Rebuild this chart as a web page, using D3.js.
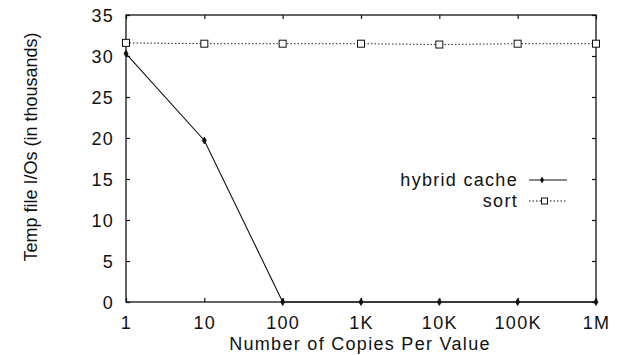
<!DOCTYPE html>
<html>
<head>
<meta charset="utf-8">
<script src="https://cdn.jsdelivr.net/npm/d3@7"></script>
<style>
  body { margin: 0; background: #fff; }
  text { font-family: "Liberation Sans", Arial, sans-serif; fill: #111; letter-spacing: 1.3px; }
</style>
</head>
<body>
<div id="chart"></div>
<script>
// Data
var copies = [1, 10, 100, 1000, 10000, 100000, 1000000];
var xTickLabels = ["1", "10", "100", "1K", "10K", "100K", "1M"];
var yTicks = [0, 5, 10, 15, 20, 25, 30, 35];
var hybridCache = [30.3, 19.7, 0, 0, 0, 0, 0];
var sortIOs = [31.6, 31.5, 31.5, 31.5, 31.4, 31.5, 31.5];

// Dimensions
var svgWidth = 618;
var svgHeight = 355;
var margin = { top: 15, right: 22, bottom: 53, left: 126 };
var chartWidth = svgWidth - margin.left - margin.right;
var chartHeight = svgHeight - margin.top - margin.bottom;

var svg = d3.select("#chart").append("svg")
    .attr("width", svgWidth)
    .attr("height", svgHeight);

var chartGroup = svg.append("g")
    .attr("transform", `translate(${margin.left},${margin.top})`);

// Scales
var xScale = d3.scaleLog().domain([1, 1000000]).range([0, chartWidth]);
var yScale = d3.scaleLinear().domain([0, 35]).range([chartHeight, 0]);

// Frame
chartGroup.append("rect")
    .attr("width", chartWidth)
    .attr("height", chartHeight)
    .attr("fill", "none")
    .attr("stroke", "#111")
    .attr("stroke-width", 1.3);

// Axes (ticks pointing inward, mirrored on top/right)
var xAxis = d3.axisBottom(xScale).tickValues(copies)
    .tickFormat((d, i) => xTickLabels[i]).tickSize(-4).tickPadding(14);
var yAxis = d3.axisLeft(yScale).tickValues(yTicks).tickSize(-4).tickPadding(12);

var gx = chartGroup.append("g")
    .attr("transform", `translate(0,${chartHeight})`)
    .call(xAxis);
var gy = chartGroup.append("g").call(yAxis);

chartGroup.append("g")
    .call(d3.axisTop(xScale).tickValues(copies).tickFormat("").tickSize(-4));
chartGroup.append("g")
    .attr("transform", `translate(${chartWidth},0)`)
    .call(d3.axisRight(yScale).tickValues(yTicks).tickFormat("").tickSize(-4));

chartGroup.selectAll(".domain").remove();
chartGroup.selectAll(".tick line").attr("stroke", "#111").attr("stroke-width", 1.2);
gx.selectAll("text").style("font-size", "18px").attr("fill", "#111");
gy.selectAll("text").style("font-size", "18px").attr("fill", "#111").attr("dy", "0.36em");

// Lines
var line = d3.line()
    .x((d, i) => xScale(copies[i]))
    .y(d => yScale(d));

chartGroup.append("path")
    .datum(sortIOs)
    .attr("d", line)
    .attr("fill", "none")
    .attr("stroke", "#222")
    .attr("stroke-width", 1)
    .attr("stroke-dasharray", "1.5,2");

chartGroup.append("path")
    .datum(hybridCache)
    .attr("d", line)
    .attr("fill", "none")
    .attr("stroke", "#111")
    .attr("stroke-width", 1.1);

// Markers
var diamond = d3.symbol().type(d3.symbolDiamond).size(14);
chartGroup.selectAll(".hyb")
    .data(hybridCache)
    .enter()
    .append("path")
    .attr("class", "hyb")
    .attr("d", diamond)
    .attr("transform", (d, i) => `translate(${xScale(copies[i])},${yScale(d)})`)
    .attr("fill", "#111")
    .attr("stroke", "#111")
    .attr("stroke-width", 0.8);

chartGroup.selectAll(".srt")
    .data(sortIOs)
    .enter()
    .append("rect")
    .attr("class", "srt")
    .attr("x", (d, i) => xScale(copies[i]) - 3.5)
    .attr("y", d => yScale(d) - 3.5)
    .attr("width", 7)
    .attr("height", 7)
    .attr("fill", "#fff")
    .attr("stroke", "#111")
    .attr("stroke-width", 1);

// Legend
var legend = svg.append("g");
var legendItems = [
    { label: "hybrid cache", y: 180, dash: null },
    { label: "sort", y: 201, dash: "1.5,2" }
];
legendItems.forEach(function(item, i) {
    legend.append("text")
        .attr("x", 518)
        .attr("y", item.y + 6)
        .attr("text-anchor", "end")
        .style("font-size", "18px")
        .text(item.label);
    legend.append("line")
        .attr("x1", 529).attr("x2", 567)
        .attr("y1", item.y).attr("y2", item.y)
        .attr("stroke", "#111")
        .attr("stroke-width", 1)
        .attr("stroke-dasharray", item.dash);
    if (i === 0) {
        legend.append("path")
            .attr("d", diamond)
            .attr("transform", `translate(542,${item.y})`)
            .attr("fill", "#111");
    } else {
        legend.append("rect")
            .attr("x", 541.5).attr("y", item.y - 3)
            .attr("width", 6).attr("height", 6)
            .attr("fill", "#fff").attr("stroke", "#111");
    }
});

// Axis titles
svg.append("text")
    .attr("x", 360)
    .attr("y", 350)
    .attr("text-anchor", "middle")
    .style("font-size", "18px")
    .text("Number of Copies Per Value");

svg.append("text")
    .attr("transform", "translate(37,147) rotate(-90)")
    .attr("text-anchor", "middle")
    .style("font-size", "18px")
    .style("letter-spacing", "0px")
    .text("Temp file I/Os (in thousands)");
</script>
</body>
</html>
